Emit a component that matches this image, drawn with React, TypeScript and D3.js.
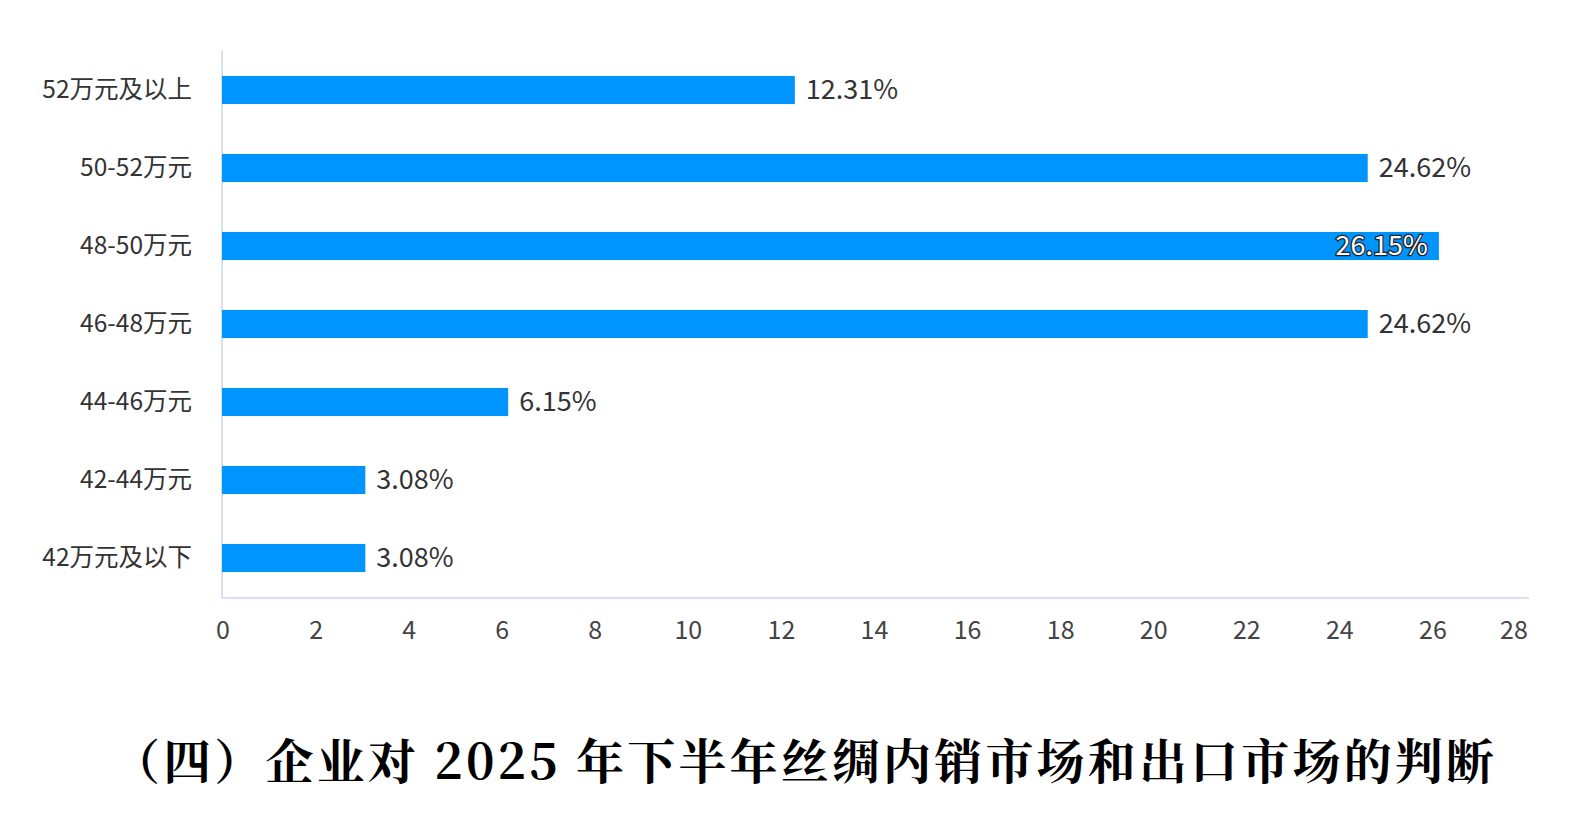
import React from "react";
import * as d3 from "d3";

const categories = ["52万元及以上", "50-52万元", "48-50万元", "46-48万元", "44-46万元", "42-44万元", "42万元及以下"];
const values = [12.31, 24.62, 26.15, 24.62, 6.15, 3.08, 3.08];
const xTicks = [0, 2, 4, 6, 8, 10, 12, 14, 16, 18, 20, 22, 24, 26, 28];
const title = "（四）企业对 2025 年下半年丝绸内销市场和出口市场的判断";

export default function App() {
  const W = 1569, H = 813;
  const x = d3.scaleLinear().domain([0, 28]).range([222, 1525]);
  const y = d3.scaleBand().domain(categories).range([51, 597]).paddingInner(0.64).paddingOuter(0.32);
  const font = "'Microsoft YaHei', 'Noto Sans CJK SC', 'Noto Sans', sans-serif";
  return (
    <svg width={W} height={H} style={{ position: "absolute", left: 0, top: 0, background: "#fff" }}>
      <line x1={222} x2={222} y1={50} y2={598} stroke="#ccd6eb" strokeWidth={1.5} />
      <line x1={222} x2={1529} y1={598} y2={598} stroke="#ccd6eb" strokeWidth={1.5} />
      {xTicks.map((t, i) => (
        <text key={t} x={i === xTicks.length - 1 ? x(t) - 11 : x(t) + 1} y={639} textAnchor="middle" fontSize={25} fill="#444" fontFamily={font}>{t}</text>
      ))}
      {categories.map((c, i) => {
        const yy = y(c)!;
        const bh = y.bandwidth();
        const cy = yy + bh / 2;
        const xe = x(values[i]);
        const inside = values[i] === d3.max(values);
        return (
          <g key={c}>
            <text x={192} y={cy + 8} textAnchor="end" fontSize={24.5} fill="#333" fontFamily={font}>{c}</text>
            <rect x={222} y={yy} width={xe - 222} height={bh} fill="#0094ff" />
            {inside ? (
              <text x={xe - 11} y={cy + 9} textAnchor="end" fontSize={27} fill="#fff" stroke="#222" strokeWidth={2.5} paintOrder="stroke" fontFamily={font}>{values[i].toFixed(2)}%</text>
            ) : (
              <text x={xe + 11} y={cy + 9} textAnchor="start" fontSize={27} fill="#333" fontFamily={font}>{values[i].toFixed(2)}%</text>
            )}
          </g>
        );
      })}
      <text x={112} y={779} fontSize={48} fontWeight="bold" fill="#000" textLength={1382} lengthAdjust="spacing" fontFamily="'Noto Serif CJK SC', 'Noto Sans CJK SC', serif">{title}</text>
    </svg>
  );
}
